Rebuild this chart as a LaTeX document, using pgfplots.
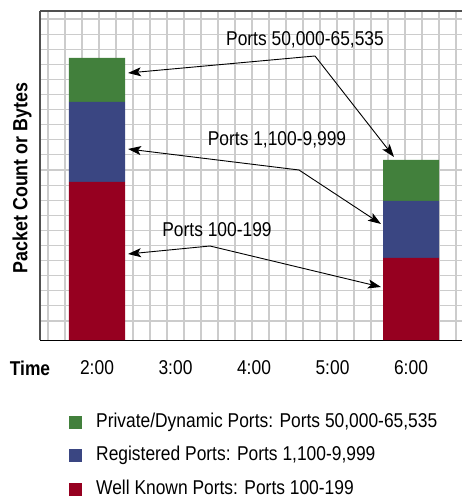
\documentclass[border=0pt]{standalone}
\usepackage{pgfplots}
\pgfplotsset{compat=1.18}
\usepackage{fontspec}
\setmainfont{Liberation Sans}[FakeStretch=0.87]
\usetikzlibrary{arrows.meta}
\definecolor{pgreen}{RGB}{66,128,60}
\definecolor{pblue}{RGB}{58,70,130}
\definecolor{pred}{RGB}{150,0,32}
\definecolor{gridc}{RGB}{204,204,204}
\definecolor{axc}{RGB}{80,80,80}
\newcommand{\lblfont}{\fontsize{20}{24}\selectfont}
\begin{document}
\begin{tikzpicture}
\useasboundingbox (-40pt,-160pt) rectangle (422pt,340pt);
\begin{axis}[
  at={(0pt,0pt)}, anchor=south west,
  scale only axis, width=422pt, height=329pt,
  xmin=1.27389, xmax=6.64968, ymin=0, ymax=329,
  ybar stacked, bar width=0.7134,
  axis line style={draw=none},
  xtick={2,3,4,5,6}, xticklabels={2:00,3:00,4:00,5:00,6:00},
  minor xtick={1.37580,1.59236,...,6.6},
  ytick={19,34.1,...,322}, yticklabels={},
  xmajorgrids=false, xminorgrids=true, ymajorgrids=true,
  major grid style={gridc, line width=1.1pt},
  minor grid style={gridc, line width=1.1pt},
  major tick length=0pt, minor tick length=0pt,
  xticklabel style={font=\lblfont, anchor=center, yshift=-28pt},
  clip=false,
  reverse legend,
  legend image code/.code={\fill[#1] (0pt,-6.5pt) rectangle (13pt,6.5pt);},
  legend style={at={(0,0)}, anchor=north west, xshift=29pt, yshift=-72.7pt,
    draw=none, fill=none, inner sep=0pt, row sep=14.5pt, column sep=14pt,
    font=\lblfont, nodes={inner sep=0pt, anchor=west, text height=14.5pt, text depth=4.5pt}},
  legend cell align=left,
]
\addplot[fill=pred, draw=none] coordinates {(2,158) (6,82)};
\addlegendentry{Well Known Ports: Ports 100-199}
\addplot[fill=pblue, draw=none] coordinates {(2,80) (6,57)};
\addlegendentry{Registered Ports: Ports 1,100-9,999}
\addplot[fill=pgreen, draw=none] coordinates {(2,44) (6,41)};
\addlegendentry{Private/Dynamic Ports: Ports 50,000-65,535}

\draw[axc, line width=2pt] (rel axis cs:0,1) -- (rel axis cs:1,1);
\draw[axc, line width=1.5pt] (rel axis cs:0,0) -- (rel axis cs:0,1);
\draw[black, line width=1pt] (rel axis cs:0,0) -- (rel axis cs:1,0);

\node[font=\lblfont] at (axis cs:4.6497,300) {Ports 50,000-65,535};
\node[font=\lblfont] at (axis cs:4.2930,200) {Ports 1,100-9,999};
\node[font=\lblfont] at (axis cs:3.5287,110) {Ports 100-199};

\tikzset{arr/.style={line width=0.9pt, -{Stealth[length=13pt,width=9pt,inset=3pt]}}}
\draw[arr] (axis cs:4.7771,284) -- (axis cs:2.3949,267);
\draw[arr] (axis cs:4.7771,284) -- (axis cs:5.7834,183);
\draw[arr] (axis cs:4.5732,170) -- (axis cs:2.3949,191);
\draw[arr] (axis cs:4.5732,170) -- (axis cs:5.6178,116);
\draw[arr] (axis cs:3.4395,94) -- (axis cs:2.3949,86);
\draw[arr] (axis cs:3.4395,94) -- (axis cs:5.6178,53);
\end{axis}
\node[font=\bfseries\lblfont] at (-10pt,-28pt) {Time};
\node[rotate=90, font=\bfseries\fontsize{20.5}{24}\selectfont] at (-18pt,162pt) {Packet Count or Bytes};
\end{tikzpicture}
\end{document}
